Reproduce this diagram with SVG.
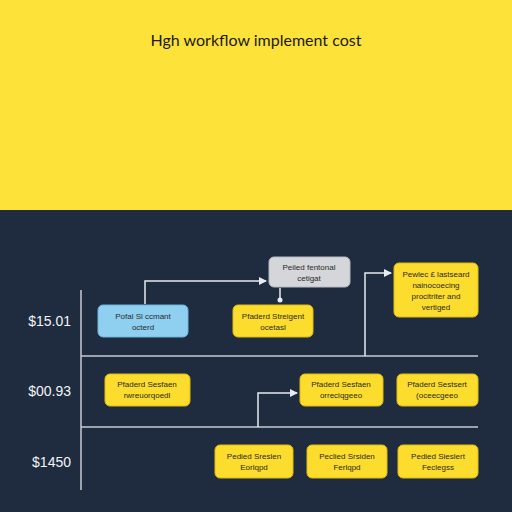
<svg xmlns="http://www.w3.org/2000/svg" width="512" height="512" viewBox="0 0 512 512">
<defs>
<marker id="arr" markerWidth="8" markerHeight="8" refX="7" refY="4" orient="auto" markerUnits="userSpaceOnUse"><path d="M0,0 L8,4 L0,8 Z" fill="#e8ecf0"/></marker>
<marker id="dot" markerWidth="6" markerHeight="6" refX="3" refY="3" markerUnits="userSpaceOnUse"><circle cx="3" cy="3" r="2.5" fill="#e8ecf0"/></marker>
</defs>
<style>
.y{fill:#fcdc2c;stroke:#e0bc10;stroke-width:1}
.b{fill:#8fd0f0;stroke:#6cb4dc;stroke-width:1}
.g{fill:#d4d6da;stroke:#b8bbc0;stroke-width:1}
.t{font-family:"Liberation Sans",Arial,sans-serif;font-size:8px;fill:#2a2a2a;text-anchor:middle}
.ax{font-family:"Liberation Sans",Arial,sans-serif;font-size:14px;fill:#f2f4f6;text-anchor:end}
.ln{stroke:#c8ccd2;stroke-width:1.5;fill:none}
.c{stroke:#e8ecf0;stroke-width:1.5;fill:none}
</style>
<rect x="0" y="0" width="512" height="210" fill="#fde23a"/>
<rect x="0" y="210" width="512" height="302" fill="#1f2b3e"/>
<text x="256" y="46" font-family="Lato,'Liberation Sans',sans-serif" font-size="16" fill="#1a1a1a" text-anchor="middle">Hgh workflow implement cost</text>
<g id="axes">
<line class="ln" x1="81" y1="290" x2="81" y2="490"/>
<line class="ln" x1="81" y1="356" x2="478" y2="356"/>
<line class="ln" x1="81" y1="427" x2="478" y2="427"/>
<text class="ax" x="71" y="326">$15.01</text>
<text class="ax" x="71" y="396">$00.93</text>
<text class="ax" x="71" y="467">$1450</text>
</g>
<g id="connectors">
<polyline class="c" points="145,304 145,281 266,281" marker-end="url(#arr)"/>
<polyline class="c" points="280,288 280,300" marker-end="url(#dot)"/>
<polyline class="c" points="365,356 365,273 391,273" marker-end="url(#arr)"/>
<polyline class="c" points="258,427 258,393 297,393" marker-end="url(#arr)"/>
</g>
<g id="n1"><rect class="b" x="98" y="305" width="90" height="32" rx="5"/><text class="t" x="143" y="319">Pofal Sl ccmant</text><text class="t" x="143" y="330">octerd</text></g>
<g id="n2"><rect class="g" x="269" y="257" width="81" height="30" rx="5"/><text class="t" x="309" y="270">Peiled fentonal</text><text class="t" x="309" y="281">cetigat</text></g>
<g id="n3"><rect class="y" x="233" y="305" width="80" height="32" rx="5"/><text class="t" x="273" y="319">Pfaderd Streigent</text><text class="t" x="273" y="330">ocetasl</text></g>
<g id="n4"><rect class="y" x="394" y="263" width="84" height="54" rx="5"/><text class="t" x="436" y="277">Pewlec £ lastseard</text><text class="t" x="436" y="288">nainocoecing</text><text class="t" x="436" y="299">procitriter and</text><text class="t" x="436" y="310">vertiged</text></g>
<g id="n5"><rect class="y" x="105" y="374" width="85" height="32" rx="5"/><text class="t" x="147" y="387">Pfaderd Sesfaen</text><text class="t" x="147" y="398">rwreuorqoedl</text></g>
<g id="n6"><rect class="y" x="300" y="374" width="83" height="32" rx="5"/><text class="t" x="341" y="387">Pfaderd Sesfaen</text><text class="t" x="341" y="398">orreciqgeeo</text></g>
<g id="n7"><rect class="y" x="397" y="374" width="81" height="32" rx="5"/><text class="t" x="437" y="387">Pfaderd Sestsert</text><text class="t" x="437" y="398">(oceecgeeo</text></g>
<g id="n8"><rect class="y" x="215" y="445" width="78" height="33" rx="5"/><text class="t" x="254" y="459">Pedied Sreslen</text><text class="t" x="254" y="470">Eorlqpd</text></g>
<g id="n9"><rect class="y" x="307" y="445" width="80" height="33" rx="5"/><text class="t" x="347" y="459">Peclied Srsiden</text><text class="t" x="347" y="470">Ferlqpd</text></g>
<g id="n10"><rect class="y" x="398" y="445" width="80" height="33" rx="5"/><text class="t" x="438" y="459">Pedied Sieslert</text><text class="t" x="438" y="470">Feclegss</text></g>
</svg>
